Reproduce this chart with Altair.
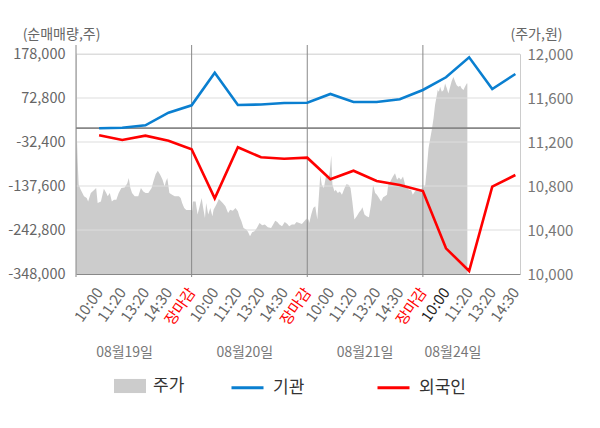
import altair as alt
import pandas as pd

FONT = "Noto Sans CJK KR"

# ---- data ----
time_labels = ["10:00", "11:20", "13:20", "14:30", "장마감",
               "10:00", "11:20", "13:20", "14:30", "장마감",
               "10:00", "11:20", "13:20", "14:30", "장마감",
               "10:00", "11:20", "13:20", "14:30"]
inst = [400, 1800, 7500, 37700, 55300, 133300, 56100, 57300, 60800, 61600,
        82400, 63200, 63200, 69700, 91900, 122300, 170100, 94300, 130200]
foreign = [-16400, -27600, -17300, -29300, -49900, -167000, -45100, -69000, -72300, -69900,
           -121600, -101000, -125600, -135200, -149600, -286600, -340800, -139300, -111300]

dates = ["08월19일", "08월20일", "08월21일", "08월24일"]
date_slot = [1.1, 6.3, 11.5, 15.3]
day_start_slot = [-1, 4, 9, 14]

left_ticks = [178000, 72800, -32400, -137600, -242800, -348000]
right_ticks = [10000, 10400, 10800, 11200, 11600, 12000]

# minutes since 09:00 and price, per trading day
day1_min = [0, 3.5, 5.7, 9, 16, 27, 36, 41, 50, 62, 68, 73, 84, 94, 102, 107, 114, 121, 128, 136,
            144, 153, 164, 173, 178, 183, 189, 198, 210, 219, 227, 235, 244, 255, 261, 269, 276,
            284, 292, 299, 303, 308, 315, 324, 333, 347, 353, 358, 365, 372, 390]
day1_price = [11022, 11210, 11022, 10811, 10766, 10706, 10691, 10660, 10736, 10766, 10781, 10645,
              10660, 10775, 10736, 10706, 10736, 10660, 10676, 10676, 10736, 10781, 10787, 10826,
              10872, 10787, 10736, 10706, 10706, 10781, 10751, 10736, 10736, 10781, 10841, 10908,
              10938, 10902, 10857, 10796, 10841, 10872, 10736, 10721, 10706, 10706, 10691, 10645,
              10600, 10582, 10582]
day2_min = [2, 4.5, 13.5, 20, 27, 34, 38, 45, 49, 56, 63, 70, 74, 83, 92, 100, 105, 114, 123, 130,
            139, 148, 156, 161, 168, 175, 184, 190, 197, 204, 212, 220, 229, 238, 247, 257, 268,
            276, 282, 289, 296, 305, 314, 323, 329, 338, 347, 354, 363, 372, 380, 388, 390]
day2_price = [10576, 10660, 10660, 10540, 10615, 10691, 10615, 10510, 10645, 10540, 10600, 10525,
              10585, 10630, 10682, 10660, 10645, 10615, 10555, 10585, 10576, 10600, 10570, 10525,
              10479, 10419, 10404, 10383, 10344, 10380, 10389, 10419, 10464, 10443, 10449, 10425,
              10419, 10455, 10485, 10473, 10449, 10434, 10473, 10455, 10434, 10449, 10449, 10473,
              10464, 10455, 10479, 10504, 10464]
day3_min = [2, 4.5, 6.7, 13.5, 20, 27, 34, 38, 44, 49, 56, 63, 72, 76, 81, 85, 92, 96, 103, 110,
            117, 126, 132, 139, 146, 152, 159, 167, 175, 182, 186, 193, 200, 208, 215, 222, 229,
            235, 242, 249, 256, 262, 269, 273, 280, 289, 296, 303, 309, 316, 323, 330, 336, 343,
            350, 356, 363, 370, 377, 383, 388, 390]
day3_price = [10495, 10495, 10464, 10540, 10600, 10615, 10495, 10660, 10902, 10811, 10781, 10887,
              10872, 10932, 11077, 10811, 10751, 10766, 10736, 10751, 10721, 10781, 10817, 10811,
              10781, 10660, 10495, 10525, 10561, 10585, 10606, 10540, 10525, 10516, 10630, 10811,
              10736, 10721, 10691, 10660, 10697, 10706, 10721, 10811, 10841, 10887, 10917, 10857,
              10878, 10857, 10887, 10811, 10787, 10766, 10766, 10721, 10751, 10766, 10751, 10766,
              10781, 10751]
day4_min = [2, 8, 13.4, 19, 25, 30, 36, 41, 47, 50, 54, 58, 64, 70, 75, 81, 86, 92, 97, 103, 109,
            114, 120, 126, 131, 137, 142, 148, 150]
day4_price = [10782, 10812, 10963, 11144, 11234, 11310, 11415, 11536, 11626, 11672, 11657, 11702,
              11657, 11672, 11732, 11687, 11641, 11702, 11753, 11792, 11747, 11717, 11702, 11711,
              11687, 11672, 11702, 11732, 11732]

# ---- tables ----
rows = []
for start, mins, prices in zip(day_start_slot,
                               [day1_min, day2_min, day3_min, day4_min],
                               [day1_price, day2_price, day3_price, day4_price]):
    for m, p in zip(mins, prices):
        rows.append({"slot": start + 5 * m / 390.0, "price": p, "series": "주가"})
price_df = pd.DataFrame(rows)

flow_df = pd.DataFrame(
    [{"slot": i, "value": v, "series": "기관"} for i, v in enumerate(inst)] +
    [{"slot": i, "value": v, "series": "외국인"} for i, v in enumerate(foreign)]
)
grid_df = pd.DataFrame({"v": left_ticks[:-1]})
vline_df = pd.DataFrame({"slot": day_start_slot})
date_df = pd.DataFrame({"slot": date_slot, "label": dates})

W, H = 444, 220

close_idx = [i for i, t in enumerate(time_labels) if t == "장마감"]
labels_js = "[" + ",".join("'%s'" % t for t in time_labels) + "]"
close_js = "[" + ",".join(str(i) for i in close_idx) + "]"
x_axis = alt.Axis(
    values=list(range(len(time_labels))), labelExpr=labels_js + "[datum.value]",
    labelAngle=305, labelAlign="right", labelBaseline="middle", labelPadding=15,
    labelFontSize=15, labelFont=FONT, labelOverlap=False,
    labelColor={"condition": [{"test": "indexof(" + close_js + ", datum.value) >= 0",
                               "value": "#ff0000"},
                              {"test": "datum.value == 15", "value": "#222222"}],
                "value": "#666666"},
    ticks=False, grid=False, domainColor="#888888", title=None,
)
x_scale = alt.Scale(domain=[-1, 18.2], nice=False, zero=False)


def xenc():
    return alt.X("slot:Q", scale=x_scale, axis=x_axis)


num_expr = "(datum.value < 0 ? '-' : '') + format(abs(datum.value), ',')"

left_axis = alt.Axis(
    orient="left", values=left_ticks, labelExpr=num_expr, grid=False, ticks=False,
    domain=False, labelPadding=11, labelFontSize=14.5, labelColor="#666666", labelFont=FONT,
    labelBaseline="middle",
    title="(순매매량,주)", titleAngle=0, titleX=-15, titleY=-20, titleAlign="center",
    titleBaseline="middle", titleFontSize=14, titleColor="#666666",
    titleFontWeight="normal", titleFont=FONT,
)
left_scale = alt.Scale(domain=[-348000, 178000], nice=False, zero=False)

right_axis = alt.Axis(
    orient="right", values=right_ticks, labelExpr=num_expr, grid=False, ticks=False,
    domainColor="#cccccc", labelPadding=7, labelFontSize=15, labelColor="#777777",
    labelFont=FONT, labelBaseline="middle",
    title="(주가,원)", titleAngle=0, titleX=16, titleY=-20, titleAlign="center",
    titleBaseline="middle", titleFontSize=14, titleColor="#666666",
    titleFontWeight="normal", titleFont=FONT,
)

area = alt.Chart(price_df).mark_area(opacity=1, interpolate="linear").encode(
    x=xenc(),
    y=alt.Y("price:Q", scale=alt.Scale(domain=[10000, 12000], nice=False, zero=False),
            axis=right_axis),
    y2=alt.datum(10000),
    fill=alt.Fill("series:N",
                  scale=alt.Scale(domain=["주가"], range=["#cccccc"]),
                  legend=alt.Legend(orient="none", legendX=38, legendY=316, title=None,
                                    symbolType="M-1,-0.44H1V0.44H-1Z", symbolSize=1024,
                                    symbolStrokeWidth=0, symbolOpacity=1,
                                    labelFontSize=17, labelColor="#333333", labelFont=FONT,
                                    labelOffset=7, padding=0)),
)

grid = alt.Chart(grid_df).mark_rule(color="#dddddd", strokeWidth=1).encode(
    y=alt.Y("v:Q", scale=left_scale, axis=left_axis),
)
zero = alt.Chart(grid_df).mark_rule(color="#888888", strokeWidth=1.2).encode(
    y=alt.datum(0, scale=left_scale, axis=left_axis),
)
vlines = alt.Chart(vline_df).mark_rule(color="#888888", strokeWidth=1).encode(
    x=xenc(), y=alt.value(-9), y2=alt.value(H + 3),
)
lines = alt.Chart(flow_df).mark_line(strokeWidth=2.6).encode(
    x=xenc(),
    y=alt.Y("value:Q", scale=left_scale, axis=left_axis),
    stroke=alt.Stroke("series:N",
                      scale=alt.Scale(domain=["기관", "외국인"], range=["#0a7fd0", "#ff0000"]),
                      legend=alt.Legend(orient="none", direction="horizontal", legendX=154,
                                        legendY=316, title=None, symbolType="stroke",
                                        symbolSize=1024, symbolStrokeWidth=3,
                                        labelFontSize=17, labelColor="#333333", labelFont=FONT,
                                        labelOffset=8, columnPadding=66, padding=0)),
    order=alt.Order("slot:Q"),
)
date_text = alt.Chart(date_df).mark_text(fontSize=14, color="#777777", font=FONT,
                                         baseline="middle", align="center").encode(
    x=xenc(), y=alt.value(H + 79), text="label:N",
)

left_group = alt.layer(grid, zero, vlines, lines, date_text)

chart = alt.layer(area, left_group).resolve_scale(y="independent").properties(
    width=W, height=H,
    autosize=alt.AutoSizeParams(type="none"),
    padding={"left": 68, "top": 46, "right": 72, "bottom": 146},
).configure_view(fill="#f5f5f5", stroke=None).configure(font=FONT)

chart.save("out.html", embed_options={"renderer": "svg", "actions": False})
